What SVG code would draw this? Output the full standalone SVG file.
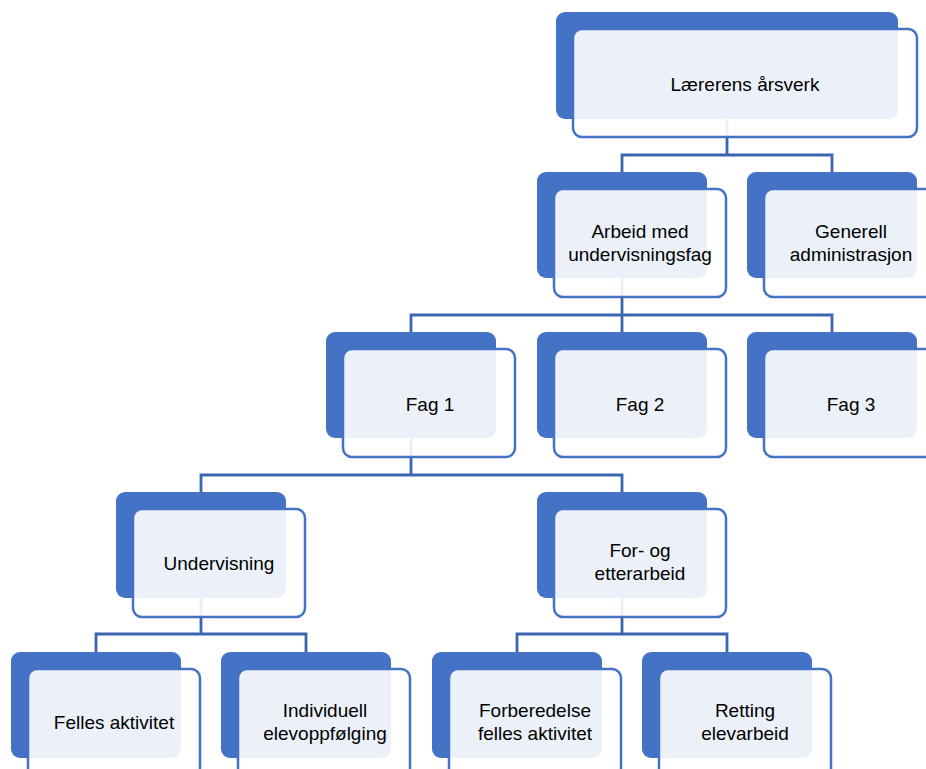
<svg xmlns="http://www.w3.org/2000/svg" width="926" height="769" viewBox="0 0 926 769">
<style>
.back{fill:#4472C4;}
.front{fill:#ffffff;fill-opacity:0.9;stroke:#4472C4;stroke-width:2.5;}
.conn{fill:none;stroke:#3B65B0;stroke-width:2.8;}
text{font-family:"Liberation Sans",Arial,sans-serif;font-size:19px;fill:#000;text-anchor:middle;}
</style>
<rect x="0" y="0" width="926" height="769" fill="#ffffff"/>
<g id="connectors">
<path class="conn" d="M727 119 V155 M622 172 V155 H832 V172"/>
<path class="conn" d="M622 278 V315 M411 332 V315 H832 V332 M622 315 V332"/>
<path class="conn" d="M411 438 V475 M201 492 V475 H622 V492"/>
<path class="conn" d="M201 598 V634 M96 652 V634 H306 V652"/>
<path class="conn" d="M622 598 V634 M517 652 V634 H727 V652"/>
</g>
<g id="n-root">
<rect class="back" x="556" y="12" width="342" height="107" rx="9"/>
<rect class="front" x="573" y="29" width="344" height="108" rx="9"/>
<text x="745" y="91">Lærerens årsverk</text>
</g>
<g id="n-arbeid">
<rect class="back" x="537" y="172" width="170" height="106" rx="9"/>
<rect class="front" x="554" y="189" width="172" height="108" rx="9"/>
<text x="640" y="238">Arbeid med</text>
<text x="640" y="261">undervisningsfag</text>
</g>
<g id="n-generell">
<rect class="back" x="747" y="172" width="170" height="106" rx="9"/>
<rect class="front" x="764" y="189" width="172" height="108" rx="9"/>
<text x="851" y="238">Generell</text>
<text x="851" y="261">administrasjon</text>
</g>
<g id="n-fag1">
<rect class="back" x="326" y="332" width="170" height="106" rx="9"/>
<rect class="front" x="343" y="349" width="172" height="108" rx="9"/>
<text x="430" y="411">Fag 1</text>
</g>
<g id="n-fag2">
<rect class="back" x="537" y="332" width="170" height="106" rx="9"/>
<rect class="front" x="554" y="349" width="172" height="108" rx="9"/>
<text x="640" y="411">Fag 2</text>
</g>
<g id="n-fag3">
<rect class="back" x="747" y="332" width="170" height="106" rx="9"/>
<rect class="front" x="764" y="349" width="172" height="108" rx="9"/>
<text x="851" y="411">Fag 3</text>
</g>
<g id="n-undervisning">
<rect class="back" x="116" y="492" width="170" height="106" rx="9"/>
<rect class="front" x="133" y="509" width="172" height="108" rx="9"/>
<text x="219" y="570">Undervisning</text>
</g>
<g id="n-forog">
<rect class="back" x="537" y="492" width="170" height="106" rx="9"/>
<rect class="front" x="554" y="509" width="172" height="108" rx="9"/>
<text x="640" y="557">For- og</text>
<text x="640" y="580">etterarbeid</text>
</g>
<g id="n-felles">
<rect class="back" x="11" y="652" width="170" height="106" rx="9"/>
<rect class="front" x="28" y="669" width="172" height="108" rx="9"/>
<text x="114" y="729">Felles aktivitet</text>
</g>
<g id="n-individuell">
<rect class="back" x="221" y="652" width="170" height="106" rx="9"/>
<rect class="front" x="238" y="669" width="172" height="108" rx="9"/>
<text x="325" y="717">Individuell</text>
<text x="325" y="740">elevoppfølging</text>
</g>
<g id="n-forberedelse">
<rect class="back" x="432" y="652" width="170" height="106" rx="9"/>
<rect class="front" x="449" y="669" width="172" height="108" rx="9"/>
<text x="535" y="717">Forberedelse</text>
<text x="535" y="740">felles aktivitet</text>
</g>
<g id="n-retting">
<rect class="back" x="642" y="652" width="170" height="106" rx="9"/>
<rect class="front" x="659" y="669" width="172" height="108" rx="9"/>
<text x="745" y="717">Retting</text>
<text x="745" y="740">elevarbeid</text>
</g>
</svg>
